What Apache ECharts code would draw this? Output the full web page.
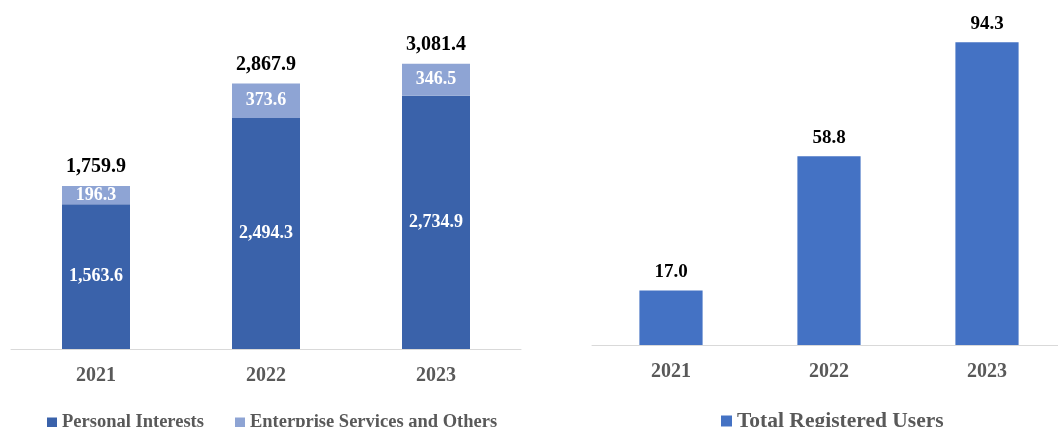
<!DOCTYPE html>
<html>
<head>
<meta charset="utf-8">
<script src="https://cdn.jsdelivr.net/npm/echarts@6/dist/echarts.min.js"></script>
<style>html,body{margin:0;padding:0;background:#fff}#c{width:1058px;height:427px}</style>
</head>
<body>
<div id="c"></div>
<script>
const years = ['2021', '2022', '2023'];
const personalInterests = [1563.6, 2494.3, 2734.9];
const enterpriseServices = [196.3, 373.6, 346.5];
const revenueTotals = [1759.9, 2867.9, 3081.4];
const registeredUsers = [17.0, 58.8, 94.3];

const FONT = "'Liberation Serif', 'Times New Roman', serif";
const fmt = v => Number(v).toLocaleString('en-US', {minimumFractionDigits: 1, maximumFractionDigits: 1});

const chart = echarts.init(document.getElementById('c'));
const axisLabel = {color: '#595959', fontFamily: FONT, fontWeight: 'bold', fontSize: 20, margin: 17};
const axisLine = {show: true, lineStyle: {color: '#D9D9D9', width: 1}};
chart.setOption({
  animation: false,
  grid: [
    {left: 11, width: 510, top: 25, bottom: 78, outerBoundsMode: 'none'},
    {left: 592, width: 474, top: 24, bottom: 82, outerBoundsMode: 'none'}
  ],
  xAxis: [
    {type: 'category', gridIndex: 0, data: years, axisTick: {show: false}, axisLine, axisLabel},
    {type: 'category', gridIndex: 1, data: years, axisTick: {show: false}, axisLine, axisLabel}
  ],
  yAxis: [
    {type: 'value', gridIndex: 0, min: 0, max: 3500, show: false, splitLine: {show: false}},
    {type: 'value', gridIndex: 1, min: 0, max: 100, show: false, splitLine: {show: false}}
  ],
  legend: [
    {left: 42, top: 408, itemWidth: 10, itemHeight: 10, itemGap: 31, icon: 'rect',
     data: ['Personal Interests', 'Enterprise Services and Others'],
     textStyle: {color: '#595959', fontFamily: FONT, fontWeight: 'bold', fontSize: 18.5}},
    {left: 716, top: 405, itemWidth: 11, itemHeight: 11, icon: 'rect',
     data: ['Total Registered Users'],
     textStyle: {color: '#595959', fontFamily: FONT, fontWeight: 'bold', fontSize: 21.5}}
  ],
  series: [
    {name: 'Personal Interests', type: 'bar', stack: 'rev', xAxisIndex: 0, yAxisIndex: 0,
     barWidth: '40%', data: personalInterests, itemStyle: {color: '#3A62AA'},
     label: {show: true, position: 'inside', color: '#fff', fontFamily: FONT, fontWeight: 'bold', fontSize: 18,
             formatter: p => fmt(p.value)}},
    {name: 'Enterprise Services and Others', type: 'bar', stack: 'rev', xAxisIndex: 0, yAxisIndex: 0,
     barWidth: '40%', data: enterpriseServices, itemStyle: {color: '#8EA4D4'},
     label: {show: true, position: 'inside', color: '#fff', fontFamily: FONT, fontWeight: 'bold', fontSize: 18,
             formatter: p => fmt(p.value)}},
    {name: 'Total', type: 'bar', stack: 'rev', xAxisIndex: 0, yAxisIndex: 0,
     barWidth: '40%', data: revenueTotals.map(() => 0), itemStyle: {color: 'transparent'},
     label: {show: true, position: 'top', distance: 9, color: '#000', fontFamily: FONT, fontWeight: 'bold', fontSize: 20,
             formatter: p => fmt(revenueTotals[p.dataIndex])}},
    {name: 'Total Registered Users', type: 'bar', xAxisIndex: 1, yAxisIndex: 1,
     barWidth: '40%', data: registeredUsers, itemStyle: {color: '#4472C4'},
     label: {show: true, position: 'top', distance: 9, color: '#000', fontFamily: FONT, fontWeight: 'bold', fontSize: 19,
             formatter: p => fmt(p.value)}}
  ]
});
</script>
</body>
</html>
